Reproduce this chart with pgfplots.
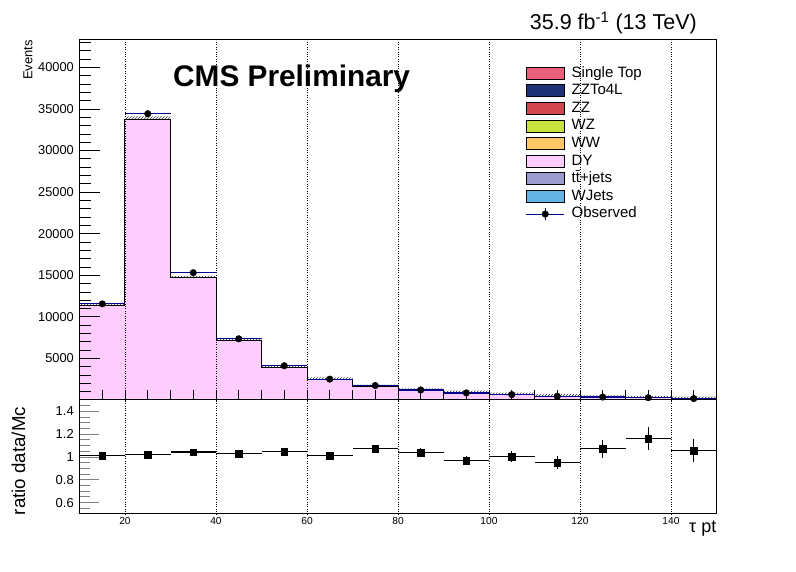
\documentclass[border=0pt]{standalone}
\usepackage{fontspec}
\setmainfont{Liberation Sans}
\usepackage{pgfplots}
\pgfplotsset{compat=1.18}
\usepackage{pgfplotstable}
\usetikzlibrary{patterns}

\definecolor{stcol}{RGB}{232,96,122}
\definecolor{zzfourl}{RGB}{30,50,120}
\definecolor{zzcol}{RGB}{210,70,80}
\definecolor{wzcol}{RGB}{200,225,60}
\definecolor{wwcol}{RGB}{255,200,100}
\definecolor{dycol}{RGB}{255,204,255}
\definecolor{ttcol}{RGB}{155,155,205}
\definecolor{wjcol}{RGB}{100,180,230}
\definecolor{obsnavy}{RGB}{0,0,140}

\pgfplotstableread{
x y up
10 11420 11640
20 33760 34100
30 14680 14930
40 7140 7380
50 3940 4180
60 2480 2720
70 1620 1860
80 1160 1400
90 880 1120
100 650 890
110 470 710
120 330 570
130 240 480
140 160 400
150 160 400
}\mctable

\pgfplotstableread{
x ex y ey
15 5 11560 108
25 5 34430 186
35 5 15310 124
45 5 7360 86
55 5 4120 64
65 5 2510 50
75 5 1740 42
85 5 1205 35
95 5 853 29
105 5 652 26
115 5 447 21
125 5 354 19
135 5 278 17
145 5 169 13
}\datatable

\pgfplotstableread{
x ex r er
15 5 1.012 0.012
25 5 1.020 0.008
35 5 1.043 0.012
45 5 1.031 0.015
55 5 1.046 0.020
65 5 1.012 0.025
75 5 1.073 0.030
85 5 1.038 0.040
95 5 0.969 0.040
105 5 1.003 0.050
115 5 0.951 0.060
125 5 1.073 0.080
135 5 1.160 0.100
145 5 1.055 0.100
}\ratiotable

\pgfplotsset{
  boxleg/.style={legend image code/.code={\draw[##1, draw=black, line width=0.8pt] (0pt,-6pt) rectangle (38pt,6pt);}},
  obsleg/.style={legend image code/.code={
      \draw[obsnavy, line width=1pt] (0pt,0pt) -- (38pt,0pt);
      \draw[obsnavy, line width=1pt] (19pt,-6pt) -- (19pt,6pt);
      \fill[black] (19pt,0pt) circle (3.3pt);}},
}

\begin{document}
\begin{tikzpicture}
\useasboundingbox (0,0) rectangle (796pt,572pt);

% main panel
\begin{axis}[
  at={(79.5pt,172pt)}, anchor=south west,
  scale only axis, width=637pt, height=360pt,
  xmin=10, xmax=150, ymin=0, ymax=43300,
  axis line style={line width=1pt},
  xtick={20,40,...,140}, xticklabels={},
  minor xtick={15,25,30,35,45,50,55,65,70,75,85,90,95,105,110,115,125,130,135,145},
  xtick style={/pgfplots/major tick length=10pt, /pgfplots/minor tick length=10pt, line width=0.8pt, black},
  ytick={5000,10000,...,40000},
  minor ytick={1000,2000,3000,4000,6000,7000,8000,9000,11000,12000,13000,14000,16000,17000,18000,19000,21000,22000,23000,24000,26000,27000,28000,29000,31000,32000,33000,34000,36000,37000,38000,39000,41000,42000,43000},
  ytick style={/pgfplots/major tick length=21pt, /pgfplots/minor tick length=11.7pt, line width=0.8pt, black},
  xtick pos=bottom, ytick pos=left, tick align=inside,
  xmajorgrids, major grid style={black, dotted, line width=0.8pt},
  scaled y ticks=false,
  /pgf/number format/.cd, 1000 sep={}, assume math mode=true, /pgfplots/.cd,
  yticklabel style={font=\fontsize{12.8}{14}\selectfont, inner sep=0pt, xshift=-5.5pt},
  legend style={at={(0.7005,0.932)}, anchor=north west, draw=none, fill=none,
    inner sep=0pt, outer sep=0pt, row sep=0pt, column sep=7pt,
    font=\fontsize{15}{17}\selectfont,
    nodes={inner sep=0pt, text height=12.6pt, text depth=5pt, anchor=west}},
  legend cell align=left,
  clip=true,
  axis on top=true,
]
% MC stat. band (hatched), then DY stack on top
\addplot[const plot mark left, pattern=north east lines, pattern color=black!80, draw=none, forget plot] table[x=x,y=up]{\mctable} \closedcycle;
\addplot[const plot mark left, fill=dycol, draw=black, line width=1pt, forget plot] table[x=x,y=y]{\mctable} \closedcycle;
% observed: horizontal bars navy, vertical bars black
\addplot[only marks, mark=none, forget plot,
  error bars/.cd, x dir=both, x explicit,
  error bar style={obsnavy, line width=1.2pt}, error mark=none]
  table[x=x, y=y, x error=ex]{\datatable};
\addplot[only marks, mark=*, mark size=3.3pt, black, forget plot,
  error bars/.cd, y dir=both, y explicit,
  error bar style={black, line width=1pt}, error mark=none]
  table[x=x, y=y, y error=ey]{\datatable};

\addlegendimage{boxleg, fill=stcol}\addlegendentry{Single Top}
\addlegendimage{boxleg, fill=zzfourl}\addlegendentry{ZZTo4L}
\addlegendimage{boxleg, fill=zzcol}\addlegendentry{ZZ}
\addlegendimage{boxleg, fill=wzcol}\addlegendentry{WZ}
\addlegendimage{boxleg, fill=wwcol}\addlegendentry{WW}
\addlegendimage{boxleg, fill=dycol}\addlegendentry{DY}
\addlegendimage{boxleg, fill=ttcol}\addlegendentry{t\={t}+jets}
\addlegendimage{boxleg, fill=wjcol}\addlegendentry{WJets}
\addlegendimage{obsleg}\addlegendentry{Observed}
\end{axis}

% ratio panel
\begin{axis}[
  at={(79.5pt,58pt)}, anchor=south west,
  scale only axis, width=637pt, height=114pt,
  xmin=10, xmax=150, ymin=0.5, ymax=1.5,
  axis line style={line width=1pt},
  xtick={20,40,...,140},
  xtick style={/pgfplots/major tick length=0pt},
  ytick={0.6,0.8,1,1.2,1.4},
  minor ytick={0.55,0.65,0.7,0.75,0.85,0.9,0.95,1.05,1.1,1.15,1.25,1.3,1.35,1.45},
  ytick style={/pgfplots/major tick length=20pt, /pgfplots/minor tick length=11pt, line width=0.8pt},
  xtick pos=bottom, ytick pos=left, tick align=inside,
  xmajorgrids, major grid style={black, dotted, line width=0.8pt},
  /pgf/number format/.cd, assume math mode=true, /pgfplots/.cd,
  yticklabel style={font=\fontsize{13}{15}\selectfont, inner sep=0pt, xshift=-5.5pt},
  xticklabel style={font=\fontsize{10.2}{12}\selectfont, inner sep=0pt, yshift=-2.7pt},
]
\addplot[only marks, mark=square*, mark size=3.3pt, black,
  error bars/.cd, x dir=both, x explicit, y dir=both, y explicit,
  error bar style={black, line width=1.2pt}, error mark=none]
  table[x=x, y=r, x error=ex, y error=er]{\ratiotable};
\end{axis}

% texts
\node[anchor=base east, font=\fontsize{21.5}{24}\selectfont, inner sep=0pt] at (697pt,542pt) {35.9 fb\textsuperscript{-1} (13 TeV)};
\node[anchor=base west, font=\fontsize{29.8}{32}\selectfont\bfseries, inner sep=0pt] at (173pt,485.3pt) {CMS Preliminary};
\node[anchor=base east, rotate=90, font=\fontsize{13}{15}\selectfont, inner sep=0pt] at (32.3pt,532pt) {Events};
\node[anchor=base, rotate=90, font=\fontsize{18.7}{21}\selectfont, inner sep=0pt] at (25pt,111pt) {ratio data/Mc};
\node[anchor=base east, font=\fontsize{18}{20}\selectfont, inner sep=0pt] at (716.5pt,39pt) {τ pt};
\end{tikzpicture}
\end{document}
